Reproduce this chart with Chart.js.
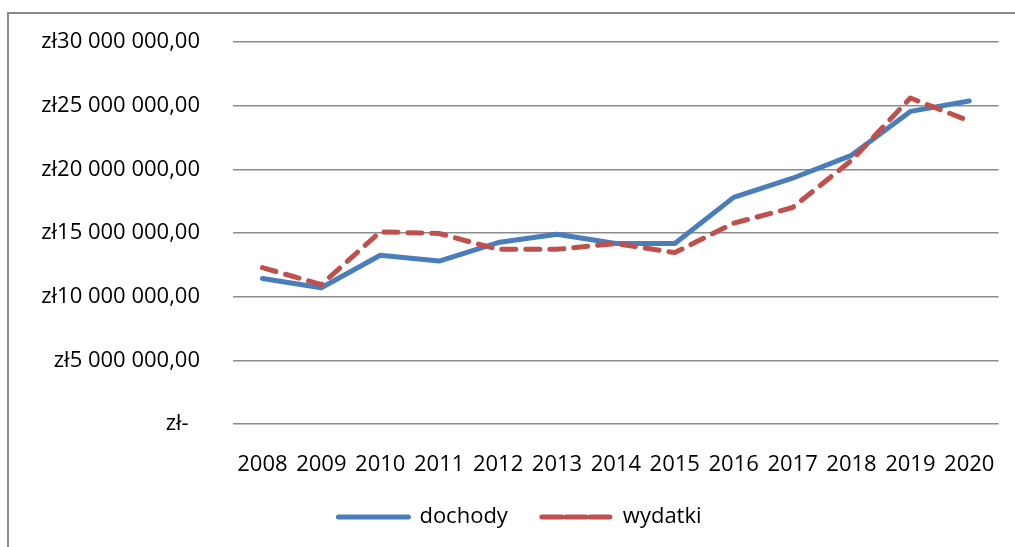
<!DOCTYPE html>
<html>
<head>
<meta charset="utf-8">
<script src="https://cdn.jsdelivr.net/npm/chart.js@4"></script>
<style>
  html, body { margin: 0; padding: 0; background: #fff; }
  canvas { display: block; }
</style>
</head>
<body>
<canvas id="myChart" width="1015" height="547"></canvas>
<script>
var years = ['2008', '2009', '2010', '2011', '2012', '2013', '2014', '2015', '2016', '2017', '2018', '2019', '2020'];
var dochody = [11430000, 10700000, 13250000, 12800000, 14250000, 14900000, 14170000, 14170000, 17800000, 19300000, 21100000, 24550000, 25370000];
var wydatki = [12280000, 10950000, 15090000, 14960000, 13720000, 13720000, 14170000, 13460000, 15770000, 17000000, 20700000, 25600000, 23800000];
var yTickLabels = ['zł-  ', 'zł5 000 000,00', 'zł10 000 000,00', 'zł15 000 000,00', 'zł20 000 000,00', 'zł25 000 000,00', 'zł30 000 000,00'];

Chart.defaults.font.family = '"Open Sans", sans-serif';
Chart.defaults.font.size = 22;
Chart.defaults.color = '#000';

// grey frame around the whole chart (top and left edge are visible)
var framePlugin = {
  id: 'frame',
  beforeDraw: function (chart) {
    var ctx = chart.ctx;
    ctx.save();
    ctx.strokeStyle = '#8a8a8a';
    ctx.lineWidth = 2;
    ctx.strokeRect(8, 13, 2000, 2000);
    ctx.restore();
  }
};

new Chart('myChart', {
  type: 'line',
  data: {
    labels: years,
    datasets: [
      {
        label: 'dochody',
        data: dochody,
        borderColor: '#4a7ebb',
        backgroundColor: '#4a7ebb',
        borderWidth: 5,
        borderCapStyle: 'round',
        borderJoinStyle: 'round',
        pointRadius: 0,
        tension: 0,
        order: 1
      },
      {
        label: 'wydatki',
        data: wydatki,
        borderColor: '#c0504d',
        backgroundColor: '#c0504d',
        borderWidth: 5,
        borderDash: [14, 10],
        borderCapStyle: 'round',
        borderJoinStyle: 'round',
        pointRadius: 0,
        tension: 0,
        order: 0
      }
    ]
  },
  options: {
    responsive: false,
    animation: false,
    layout: {
      padding: { top: 42, left: 40, right: 15, bottom: 9 }
    },
    scales: {
      x: {
        offset: true,
        grid: { display: false },
        border: { display: false },
        ticks: { padding: 20, maxRotation: 0, autoSkip: false },
        afterFit: function (scale) { scale.height = 48; }
      },
      y: {
        min: 0,
        max: 30000000,
        grid: { color: '#8c8c8c', lineWidth: 1.5, drawTicks: false },
        border: { display: false },
        ticks: {
          stepSize: 5000000,
          padding: 33,
          callback: function (value, index) { return yTickLabels[index]; }
        },
        afterFit: function (scale) {
          scale.width = 193;
          scale.paddingTop = 0;
          scale.paddingBottom = 0;
        }
      }
    },
    plugins: {
      legend: {
        position: 'bottom',
        labels: {
          boxWidth: 70,
          boxHeight: 0,
          padding: 34,
          sort: function (a, b) { return a.datasetIndex - b.datasetIndex; }
        }
      },
      tooltip: { enabled: false }
    }
  },
  plugins: [framePlugin]
});
</script>
</body>
</html>
